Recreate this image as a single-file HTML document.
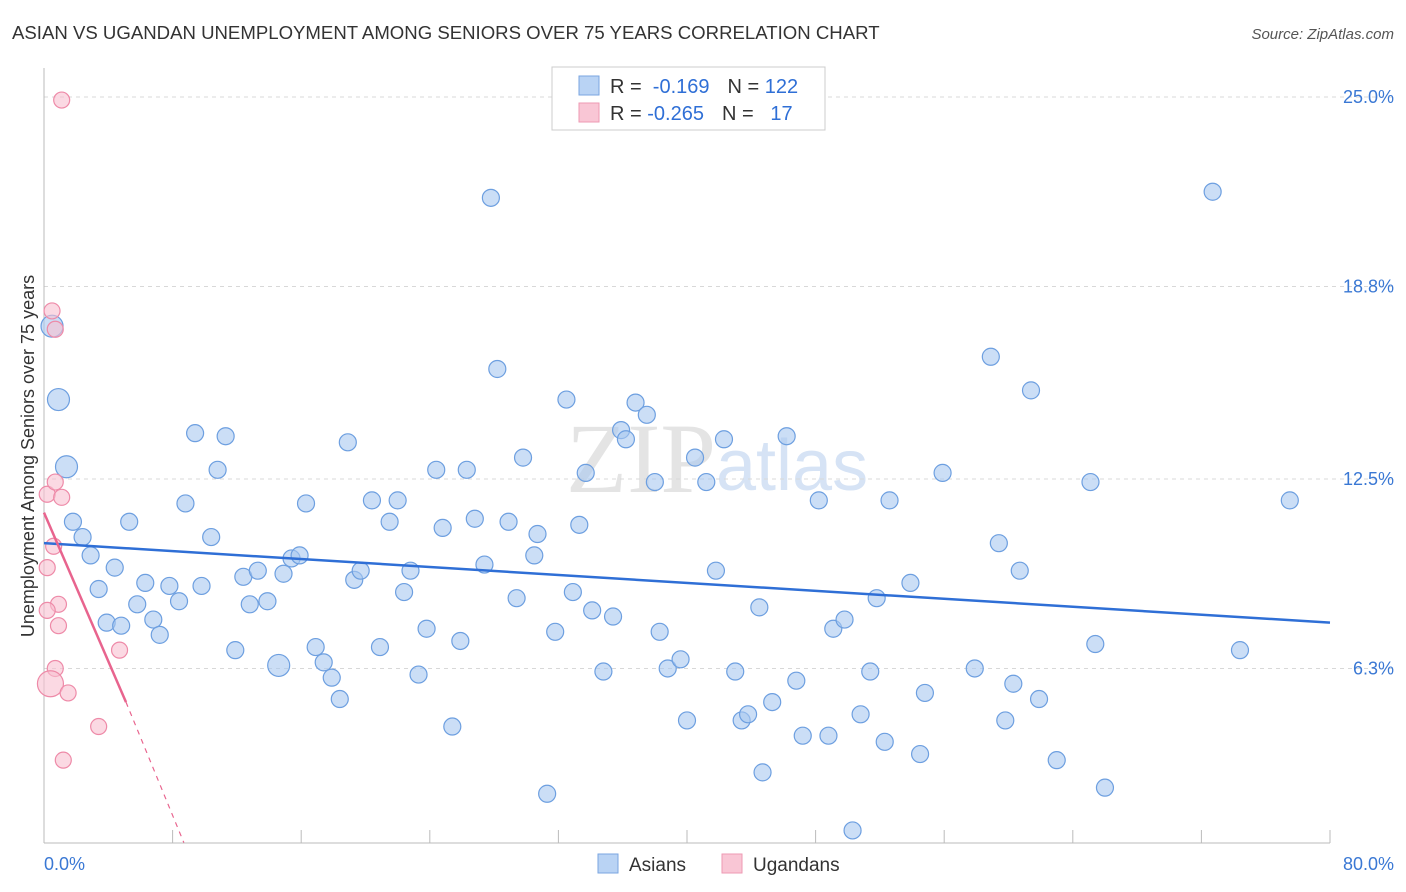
<!DOCTYPE html>
<html><head><meta charset="utf-8">
<style>
body{margin:0;background:#fff;font-family:"Liberation Sans",sans-serif;}
svg{display:block}
</style></head>
<body>
<svg id="chart" width="1406" height="892" viewBox="0 0 1406 892">
<text x="12" y="39" font-size="18.6" fill="#333">ASIAN VS UGANDAN UNEMPLOYMENT AMONG SENIORS OVER 75 YEARS CORRELATION CHART</text>
<text x="1394" y="39" font-size="15" fill="#555" text-anchor="end" font-style="italic">Source: ZipAtlas.com</text>
<text x="716" y="492" font-size="100" fill="#e4e4e4" text-anchor="end" font-family="Liberation Serif,serif">ZIP</text>
<text x="716" y="490" font-size="72" fill="#d6e3f5">atlas</text>
<g id="grid"></g>
<g id="axes"></g>
<g id="pts"></g>
<g id="lines"></g>
<text transform="translate(34,456) rotate(-90)" font-size="18" fill="#333" text-anchor="middle">Unemployment Among Seniors over 75 years</text>
<g>
<rect x="552" y="67" width="273" height="63" fill="#fff" stroke="#ccc"/>
<rect x="579" y="76" width="20" height="19" fill="#b9d3f4" stroke="#7aa6e0"/>
<rect x="579" y="103" width="20" height="19" fill="#f9c6d5" stroke="#ee9ab3"/>
<text x="610" y="93" font-size="20" fill="#333">R = <tspan fill="#2f6fd6">&#160;-0.169</tspan><tspan dx="18">N = </tspan><tspan fill="#2f6fd6">122</tspan></text>
<text x="610" y="120" font-size="20" fill="#333">R = <tspan fill="#2f6fd6">-0.265</tspan><tspan dx="18">N = </tspan><tspan fill="#2f6fd6">&#160;&#160;17</tspan></text>
</g>
<g>
<rect x="598" y="854" width="20" height="19" fill="#b9d3f4" stroke="#7aa6e0"/>
<text x="629" y="871" font-size="19" fill="#333">Asians</text>
<rect x="722" y="854" width="20" height="19" fill="#f9c6d5" stroke="#ee9ab3"/>
<text x="753" y="871" font-size="19" fill="#333">Ugandans</text>
</g>
</svg>
<script>
const yTicks=[6.3,12.5,18.8,25.0];
const yTickLabels=["6.3%","12.5%","18.8%","25.0%"];
const xTickCount=10;
const xLabels=["0.0%","80.0%"];
const asianX=[27.8,72.7,0.5,0.9,1.4,1.8,2.4,2.9,3.4,4.4,3.9,4.8,5.3,5.8,6.3,6.8,7.2,7.8,8.4,8.8,9.4,9.8,10.4,10.8,11.3,11.9,12.4,12.8,13.3,13.9,14.6,14.9,15.4,15.9,16.3,16.9,17.4,17.9,18.4,18.9,19.3,19.7,20.4,20.9,21.5,22.0,22.4,22.8,23.3,23.8,24.4,24.8,25.4,25.9,26.3,26.8,27.4,28.2,28.9,29.4,29.8,30.5,30.7,31.3,31.8,32.5,32.9,33.3,33.7,34.1,34.8,35.4,35.9,36.2,36.8,37.5,38.0,38.3,38.8,39.6,40.0,40.5,41.2,41.8,42.3,43.0,43.4,43.8,44.5,44.7,45.3,46.2,46.8,47.2,48.2,48.8,49.1,49.8,50.3,50.8,51.4,51.8,52.3,52.6,53.9,54.5,54.8,55.9,57.9,58.9,59.4,59.8,60.3,60.7,61.4,61.9,63.0,65.1,65.4,66.0,74.4,77.5];
const asianY=[21.7,21.9,17.5,15.1,12.9,11.1,10.6,10.0,8.9,9.6,7.8,7.7,11.1,8.4,9.1,7.9,7.4,9.0,8.5,11.7,14.0,9.0,10.6,12.8,13.9,6.9,9.3,8.4,9.5,8.5,6.4,9.4,9.9,10.0,11.7,7.0,6.5,6.0,5.3,13.7,9.2,9.5,11.8,7.0,11.1,11.8,8.8,9.5,6.1,7.6,12.8,10.9,4.4,7.2,12.8,11.2,9.7,16.1,11.1,8.6,13.2,10.0,10.7,2.2,7.5,15.1,8.8,11.0,12.7,8.2,6.2,8.0,14.1,13.8,15.0,14.6,12.4,7.5,6.3,6.6,4.6,13.2,12.4,9.5,13.8,6.2,4.6,4.8,8.3,2.9,5.2,13.9,5.9,4.1,11.8,4.1,7.6,7.9,1.0,4.8,6.2,8.6,3.9,11.8,9.1,3.5,5.5,12.7,6.3,16.5,10.4,4.6,5.8,9.5,15.4,5.3,3.3,12.4,7.1,2.4,6.9,11.8];
const ugX=[1.1,0.5,0.7,0.2,0.7,1.1,0.6,0.2,0.9,0.2,0.9,4.7,0.7,0.4,1.5,3.4,1.2];
const ugY=[24.9,18.0,17.4,12.0,12.4,11.9,10.3,9.6,8.4,8.2,7.7,6.9,6.3,5.8,5.5,4.4,3.3];
const asianTrend=[[0,10.4],[80,7.8]];
const ugTrendSolid=[[0,11.4],[5.1,5.2]];
const ugTrendDash=[[5.1,5.2],[8.7,0.6]];

const NS="http://www.w3.org/2000/svg";
const sx=v=>44+v/80*1286;
const sy=v=>861-v*30.56;
function mk(tag,attrs,parent){const e=document.createElementNS(NS,tag);for(const k in attrs)e.setAttribute(k,attrs[k]);parent.appendChild(e);return e;}
const grid=document.getElementById('grid'),axes=document.getElementById('axes'),pts=document.getElementById('pts'),lines=document.getElementById('lines');
yTicks.forEach((t,i)=>{
 const l=mk('line',{x1:44,x2:1394,y1:sy(t),y2:sy(t),stroke:'#d8d8d8','stroke-dasharray':'4,4'},grid);
 
 
 const tx=mk('text',{x:1394,y:sy(t)+6,'font-size':18,fill:'#3a78d4','text-anchor':'end'},grid);
 tx.textContent=yTickLabels[i];
 
 
});
const xa=mk('line',{x1:44,x2:1330,y1:843,y2:843,stroke:'#bbb'},axes);


const ya=mk('line',{x1:44,x2:44,y1:68,y2:843,stroke:'#bbb'},axes);


for(let i=1;i<=xTickCount;i++){
 const t=mk('line',{x1:sx(i*8),x2:sx(i*8),y1:830,y2:843,stroke:'#bbb'},axes);
 
 
}
const xl0=mk('text',{x:44,y:870,'font-size':18,fill:'#3a78d4'},axes);xl0.textContent=xLabels[0];


const xl1=mk('text',{x:1394,y:870,'font-size':18,fill:'#3a78d4','text-anchor':'end'},axes);xl1.textContent=xLabels[1];


asianX.forEach((x,i)=>{
 const big=(x<2&&asianY[i]>12.5)||(i===30);
 const c=mk('circle',{cx:sx(x),cy:sy(asianY[i]),r:big?11:8.5,fill:'#a9c8f0','fill-opacity':0.6,stroke:'#6d9fe0','stroke-width':1.2},pts);
 
 
});
ugX.forEach((x,i)=>{
 const c=mk('circle',{cx:sx(x),cy:sy(ugY[i]),r:i===13?13:8,fill:'#f8bfd0','fill-opacity':0.6,stroke:'#ee8aa8','stroke-width':1.2},pts);
 
 
});
const bl=mk('line',{x1:sx(asianTrend[0][0]),y1:sy(asianTrend[0][1]),x2:sx(asianTrend[1][0]),y2:sy(asianTrend[1][1]),stroke:'#2f6fd6','stroke-width':2.5},lines);


const pl=mk('line',{x1:sx(ugTrendSolid[0][0]),y1:sy(ugTrendSolid[0][1]),x2:sx(ugTrendSolid[1][0]),y2:sy(ugTrendSolid[1][1]),stroke:'#e8648e','stroke-width':2.5},lines);


const pd=mk('line',{x1:sx(ugTrendDash[0][0]),y1:sy(ugTrendDash[0][1]),x2:sx(ugTrendDash[1][0]),y2:sy(ugTrendDash[1][1]),stroke:'#e8648e','stroke-width':1.2,'stroke-dasharray':'5,5'},lines);


</script>
</body></html>
